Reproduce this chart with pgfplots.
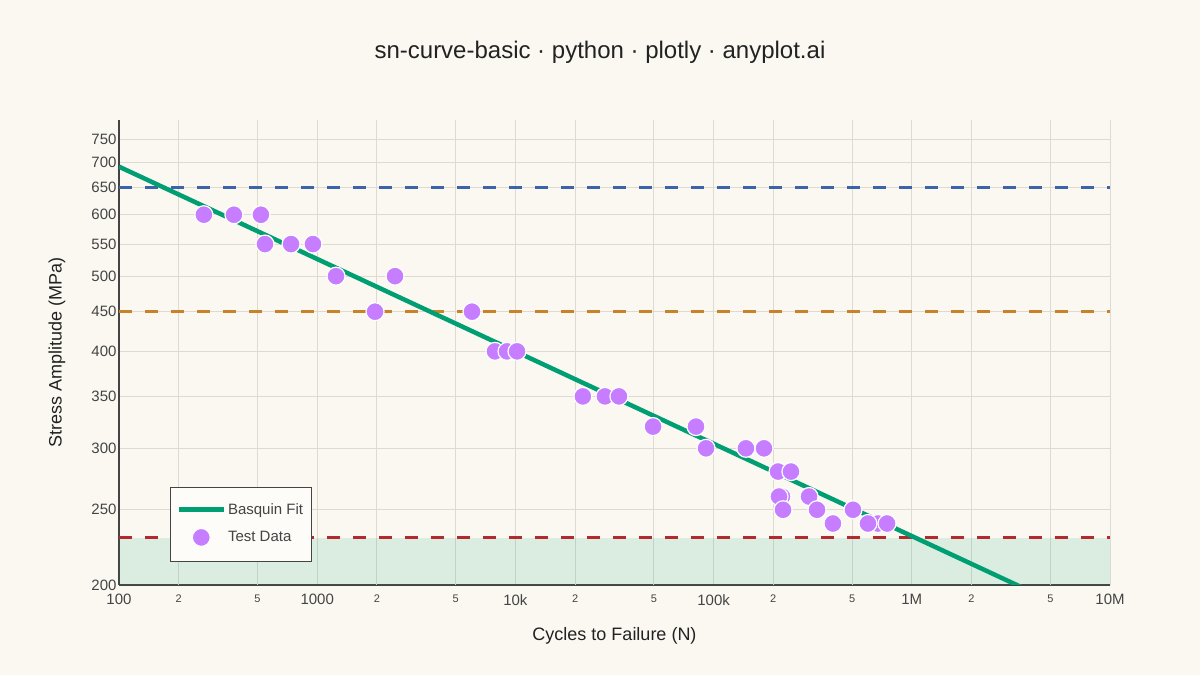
\documentclass[border=0pt]{standalone}
\usepackage{pgfplots}
\pgfplotsset{compat=1.18}
\usepackage{fontspec}
\setmainfont{Liberation Sans}

\definecolor{bg}{HTML}{FAF8F1}
\definecolor{ink}{HTML}{222222}
\definecolor{tickc}{HTML}{444444}
\definecolor{gridc}{HTML}{DDDAD2}
\definecolor{fitc}{HTML}{009E73}
\definecolor{ptc}{HTML}{C77DFF}
\definecolor{ultc}{HTML}{3D64A8}
\definecolor{yldc}{HTML}{C8832A}
\definecolor{endc}{HTML}{B22A2E}

\begin{document}
\begin{tikzpicture}[x=1pt,y=1pt]
\fill[bg] (0,0) rectangle (1200,675);
\node[font=\fontsize{24}{28}\selectfont, text=ink] at (600,623) {sn-curve-basic · python · plotly · anyplot.ai};
\begin{axis}[
    at={(119pt,90pt)}, anchor=south west,
    scale only axis, width=991pt, height=465pt,
    xmode=log, ymode=log,
    xmin=100, xmax=1e7, ymin=200, ymax=795,
    axis lines=left, axis line style={-, draw=tickc, line width=1.3pt},
    major tick length=0pt, minor tick length=0pt,
    minor x tick num=0, minor y tick num=0,
    xminorgrids=false, yminorgrids=false,
    xmajorgrids, ymajorgrids,
    grid style={draw=gridc, line width=1pt},
    xtick={100,1000,10000,100000,1000000,10000000},
    xticklabels={100,1000,10k,100k,1M,10M},
    extra x ticks={200,500,2000,5000,20000,50000,200000,500000,2000000,5000000},
    extra x tick labels={2,5,2,5,2,5,2,5,2,5},
    extra x tick style={grid=major, tick label style={font=\fontsize{11}{13}\selectfont, yshift=0pt}},
    ytick={200,250,300,350,400,450,500,550,600,650,700,750},
    yticklabels={200,250,300,350,400,450,500,550,600,650,700,750},
    tick label style={font=\fontsize{15}{18}\selectfont, text=tickc},
    xticklabel style={yshift=-6pt},
    yticklabel style={xshift=1pt},
    xlabel={Cycles to Failure (N)},
    ylabel={Stress Amplitude (MPa)},
    label style={font=\fontsize{18}{22}\selectfont, text=ink},
    xlabel style={at={(axis description cs:0.5,-0.11)}, anchor=center},
    ylabel style={at={(axis description cs:-0.0626,0.5)}, anchor=center},
    legend style={at={(axis description cs:0.0515,0.2108)}, anchor=north west,
        draw=tickc, line width=1pt, fill=white!60!bg, text=tickc,
        font=\fontsize{15}{18}\selectfont, inner xsep=6pt, inner ysep=14pt,
        row sep=10pt, legend cell align=left,
        /tikz/every even column/.append style={column sep=10pt}},
    clip=true,
]
% endurance region
\addplot[draw=none, fill=fitc, fill opacity=0.12, forget plot] coordinates {
    (100,200) (10000000,200) (10000000,230) (100,230)} -- cycle;
% reference lines
\addplot[ultc, line width=3pt, dash pattern=on 13pt off 13pt, forget plot] coordinates {(100,650) (10000000,650)};
\addplot[yldc, line width=3pt, dash pattern=on 13pt off 13pt, forget plot] coordinates {(100,450) (10000000,450)};
\addplot[endc, line width=3pt, dash pattern=on 13pt off 13pt, forget plot] coordinates {(100,230) (10000000,230)};
% Basquin fit
\addplot[fitc, line width=4.5pt,
    legend image code/.code={\draw[fitc, line width=4.5pt] (0pt,0pt) -- (45pt,0pt);}]
    coordinates {(100,692) (10000000,175.8)};
\addlegendentry{Basquin Fit}
% test data
\addplot[only marks, mark=*, mark size=9pt,
    mark options={fill=ptc, draw=white, line width=1.2pt},
    legend image code/.code={\fill[ptc, draw=white, line width=1.2pt] (22.5pt,0pt) circle (9pt);}]
    coordinates {
    (268,600) (380,600) (520,600)
    (545,550) (738,550) (952,550)
    (1244,500) (2469,500)
    (1958,450) (6040,450)
    (7890,400) (9070,400) (10190,400)
    (21900,350) (28300,350) (33300,350)
    (49500,320) (81500,320)
    (91600,300) (145600,300) (179600,300)
    (211400,280) (245600,280)
    (221300,260) (213800,260) (303000,260)
    (224000,250) (332500,250) (505000,250)
    (400000,240) (675000,240) (601000,240) (750000,240)
    };
\addlegendentry{Test Data}
\end{axis}
\end{tikzpicture}
\end{document}
